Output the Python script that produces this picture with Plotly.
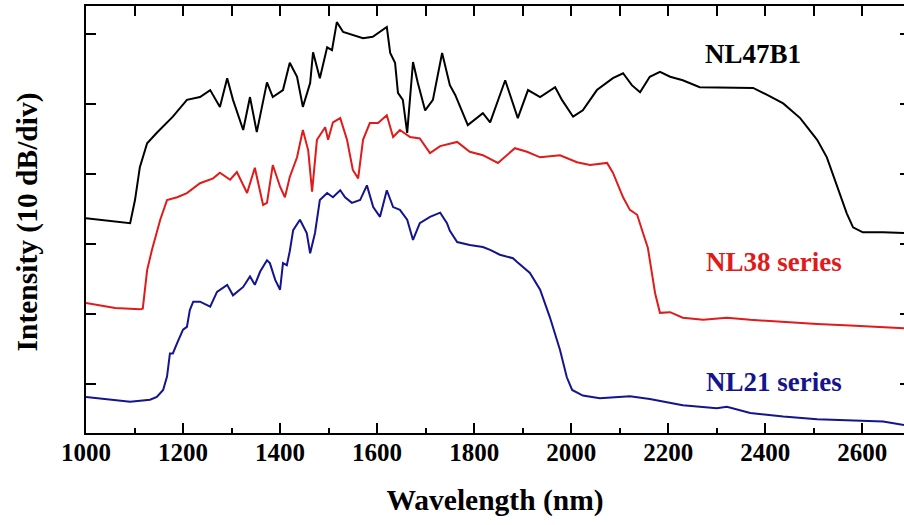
import plotly.graph_objects as go

# ---- data (wavelength in nm, intensity in dB, arbitrary offset) ----
nl47_wl = [1000, 1091, 1101, 1111, 1126, 1146, 1179, 1208, 1235, 1256,
           1276, 1291, 1303, 1324, 1338, 1352, 1373, 1385, 1406, 1420,
           1435, 1447, 1462, 1468, 1482, 1497, 1507, 1517, 1530, 1550,
           1571, 1591, 1606, 1620, 1627, 1637, 1643, 1653, 1662, 1668,
           1674, 1684, 1699, 1715, 1734, 1750, 1761, 1787, 1818, 1833,
           1864, 1890, 1911, 1936, 1967, 1981, 2004, 2024, 2053, 2086,
           2107, 2125, 2142, 2162, 2183, 2204, 2230, 2265, 2300, 2342,
           2375, 2404, 2437, 2472, 2507, 2527, 2548, 2568, 2581, 2601,
           2643, 2686]
nl47_db = [23.7, 23.0, 26.3, 31.0, 34.4, 35.9, 38.2, 40.6, 41.0, 42.0,
           39.6, 43.7, 40.6, 36.3, 41.0, 36.0, 43.1, 41.0, 42.0, 45.9,
           43.9, 39.6, 43.0, 47.4, 43.7, 48.1, 47.7, 51.7, 50.3, 49.9,
           49.4, 49.6, 50.3, 51.0, 47.3, 45.9, 41.6, 40.6, 35.9, 40.6,
           46.0, 43.0, 39.1, 40.6, 47.3, 42.7, 41.3, 37.0, 38.7, 37.4,
           43.4, 38.0, 42.0, 41.0, 42.4, 40.6, 38.2, 39.1, 42.0, 43.7,
           44.4, 42.7, 41.7, 43.9, 44.6, 43.9, 43.4, 42.4, 42.4, 42.3,
           42.3, 41.3, 40.1, 38.0, 34.9, 32.4, 28.2, 24.4, 22.4, 21.7,
           21.7, 21.6]

nl38_wl = [1000, 1029, 1060, 1111, 1117, 1126, 1136, 1153, 1167, 1188,
           1208, 1235, 1262, 1276, 1297, 1311, 1332, 1348, 1365, 1373,
           1385, 1400, 1410, 1420, 1435, 1447, 1458, 1466, 1476, 1493,
           1499, 1509, 1524, 1538, 1550, 1561, 1571, 1585, 1602, 1620,
           1633, 1647, 1668, 1688, 1709, 1730, 1750, 1765, 1791, 1818,
           1849, 1884, 1909, 1936, 1977, 2012, 2039, 2074, 2086, 2107,
           2121, 2136, 2148, 2158, 2173, 2183, 2204, 2230, 2272, 2321,
           2369, 2437, 2507, 2575, 2643, 2686]
nl38_db = [11.6, 11.3, 10.9, 10.7, 10.8, 16.3, 19.2, 23.5, 26.3, 26.7,
           27.3, 28.7, 29.4, 30.2, 29.2, 30.3, 27.3, 30.9, 25.6, 25.9,
           31.3, 28.2, 26.7, 29.6, 32.4, 36.3, 33.4, 27.5, 34.9, 36.7,
           34.9, 37.4, 38.0, 34.9, 30.6, 29.4, 34.9, 37.3, 37.3, 38.4,
           35.3, 36.3, 35.3, 35.1, 33.0, 34.0, 34.4, 34.6, 33.2, 32.7,
           31.6, 33.7, 33.2, 32.4, 32.7, 31.7, 31.3, 31.6, 30.2, 26.7,
           24.9, 24.2, 21.6, 19.5, 13.0, 10.2, 10.3, 9.5, 9.2, 9.5,
           9.2, 8.9, 8.6, 8.4, 8.1, 8.0]

nl21_wl = [1000, 1091, 1132, 1146, 1159, 1167, 1173, 1179, 1188, 1200,
           1208, 1214, 1221, 1235, 1256, 1270, 1291, 1303, 1324, 1338,
           1348, 1359, 1373, 1379, 1390, 1400, 1406, 1414, 1420, 1427,
           1441, 1455, 1462, 1472, 1482, 1497, 1509, 1524, 1534, 1548,
           1565, 1579, 1592, 1606, 1620, 1633, 1647, 1662, 1674, 1688,
           1709, 1730, 1744, 1750, 1765, 1791, 1818, 1833, 1853, 1880,
           1888, 1915, 1936, 1956, 1977, 1991, 2002, 2024, 2059, 2101,
           2121, 2162, 2230, 2300, 2321, 2369, 2437, 2507, 2575, 2643,
           2686]
nl21_db = [-1.8, -2.5, -2.2, -1.8, -0.8, 1.1, 4.4, 4.4, 5.9, 7.8,
           8.2, 10.6, 11.8, 11.8, 11.1, 13.2, 14.2, 12.7, 13.9, 15.4,
           14.2, 16.1, 17.7, 17.3, 14.9, 13.5, 17.3, 17.0, 19.0, 22.0,
           23.5, 21.6, 18.7, 21.6, 26.3, 27.3, 26.7, 27.7, 26.7, 25.9,
           26.3, 28.4, 25.3, 23.9, 27.7, 25.3, 24.9, 23.5, 20.6, 23.0,
           23.9, 24.5, 23.0, 21.9, 20.3, 19.9, 19.6, 19.2, 18.5, 18.0,
           17.5, 15.9, 13.5, 9.6, 4.9, 1.0, -0.8, -1.6, -2.0, -1.8,
           -1.7, -2.1, -3.0, -3.4, -3.2, -4.1, -4.6, -5.0, -5.2, -5.3,
           -5.8]

x_ticks = [1000, 1200, 1400, 1600, 1800, 2000, 2200, 2400, 2600]
y_ticks = [0, 10, 20, 30, 40, 50]
series_names = ["NL47B1", "NL38 series", "NL21 series"]
x_title = "Wavelength (nm)"
y_title = "Intensity (10 dB/div)"

# ---- styling ----
FONT = "Liberation Serif"
BLACK = "#000000"
RED = "#e11a1a"
BLUE = "#14148f"
XR = [1000, 2686]
YR = [-6.95, 54.0]

fig = go.Figure()
for wl, db, col, name in [(nl47_wl, nl47_db, BLACK, series_names[0]),
                          (nl38_wl, nl38_db, RED, series_names[1]),
                          (nl21_wl, nl21_db, BLUE, series_names[2])]:
    fig.add_trace(go.Scatter(x=wl, y=db, mode="lines", name=name,
                             line=dict(color=col, width=2), showlegend=False,
                             hoverinfo="skip"))

# invisible trace to activate the mirrored axes
fig.add_trace(go.Scatter(x=[XR[0]], y=[YR[0]], xaxis="x2", yaxis="y2",
                         mode="markers", marker=dict(opacity=0),
                         showlegend=False, hoverinfo="skip"))

labels = [(series_names[0], 2375, 47.1, BLACK),
          (series_names[1], 2419, 17.5, RED),
          (series_names[2], 2419, 0.4, BLUE)]
for txt, xx, yy, col in labels:
    fig.add_annotation(x=xx, y=yy, xref="x", yref="y", text=txt,
                       showarrow=False, xanchor="center", yanchor="middle",
                       font=dict(family=FONT, size=27, color=col, weight="bold"))

# y-axis title as a rotated annotation for precise placement
fig.add_annotation(x=0, y=0.493, xref="paper", yref="paper", xshift=-59,
                   text=y_title, textangle=-90, showarrow=False,
                   xanchor="center", yanchor="middle",
                   font=dict(family=FONT, size=29.5, color=BLACK, weight="bold"))

fig.update_layout(
    width=904, height=525,
    margin=dict(l=86, r=0, t=6, b=92),
    paper_bgcolor="white", plot_bgcolor="white",
    xaxis=dict(range=XR, tickvals=x_ticks, ticks="inside", ticklen=10,
               tickwidth=2, tickcolor=BLACK, showline=True, linewidth=2,
               linecolor=BLACK, showgrid=False, zeroline=False,
               ticklabelstandoff=-4,
               minor=dict(dtick=100, tick0=1000, ticks="inside", ticklen=5,
                          tickwidth=2, tickcolor=BLACK, showgrid=False),
               tickfont=dict(family=FONT, size=25, color=BLACK, weight="bold"),
               title=dict(text=x_title, standoff=24,
                          font=dict(family=FONT, size=29.5, color=BLACK, weight="bold"))),
    yaxis=dict(range=YR, tickvals=y_ticks, ticks="inside", ticklen=10,
               tickwidth=2, tickcolor=BLACK, showline=True, linewidth=2,
               linecolor=BLACK, showgrid=False, zeroline=False,
               showticklabels=False),
    xaxis2=dict(range=XR, overlaying="x", anchor="y", side="top",
                dtick=100, tick0=1000, ticks="inside", ticklen=10, tickwidth=2,
                tickcolor=BLACK, showline=True, linewidth=2, linecolor=BLACK,
                showgrid=False, zeroline=False, showticklabels=False),
    yaxis2=dict(range=YR, overlaying="y", anchor="x", side="right",
                tickvals=y_ticks, ticks="inside", ticklen=4, tickwidth=2,
                tickcolor=BLACK, showline=False, showgrid=False,
                zeroline=False, showticklabels=False),
)

fig.write_html("out.html")
